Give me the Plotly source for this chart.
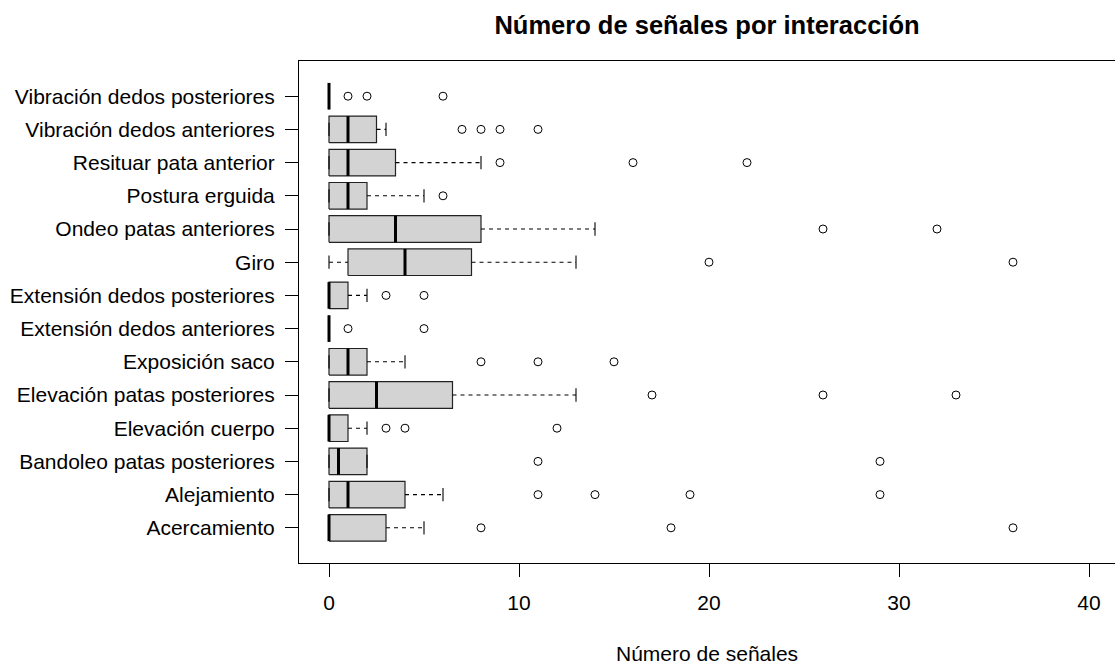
import plotly.graph_objects as go

categories = ["Acercamiento", "Alejamiento", "Bandoleo patas posteriores", "Elevación cuerpo",
              "Elevación patas posteriores", "Exposición saco", "Extensión dedos anteriores",
              "Extensión dedos posteriores", "Giro", "Ondeo patas anteriores", "Postura erguida",
              "Resituar pata anterior", "Vibración dedos anteriores", "Vibración dedos posteriores"]
whisker_low = [0, 0, 0, 0, 0, 0, 0, 0, 0, 0, 0, 0, 0, 0]
q1 = [0, 0, 0, 0, 0, 0, 0, 0, 1, 0, 0, 0, 0, 0]
median = [0, 1, 0.5, 0, 2.5, 1, 0, 0, 4, 3.5, 1, 1, 1, 0]
q3 = [3, 4, 2, 1, 6.5, 2, 0, 1, 7.5, 8, 2, 3.5, 2.5, 0]
whisker_high = [5, 6, 2, 2, 13, 4, 0, 2, 13, 14, 5, 8, 3, 0]
outliers = [[8, 18, 36], [11, 14, 19, 29], [11, 29], [3, 4, 12], [17, 26, 33], [8, 11, 15],
            [1, 5], [3, 5], [20, 36], [26, 32], [6], [9, 16, 22], [7, 8, 9, 11], [1, 2, 6]]
x_ticks = [0, 10, 20, 30, 40]

FONT = "Liberation Sans, Arial, sans-serif"
HW = 0.4   # half box height
SW = 0.2   # half staple length

pos = list(range(1, len(categories) + 1))

bx, by = [], []
for p, a, b in zip(pos, q1, q3):
    bx += [a, b, b, a, a, None]
    by += [p - HW, p - HW, p + HW, p + HW, p - HW, None]

wx, wy = [], []
for p, lo, a, b, hi in zip(pos, whisker_low, q1, q3, whisker_high):
    if hi > b:
        wx += [b, hi, None]; wy += [p, p, None]
    if lo < a:
        wx += [lo, a, None]; wy += [p, p, None]

sx, sy = [], []
for p, lo, hi in zip(pos, whisker_low, whisker_high):
    sx += [hi, hi, None, lo, lo, None]
    sy += [p - SW, p + SW, None, p - SW, p + SW, None]

mx, my = [], []
for p, m in zip(pos, median):
    mx += [m, m, None]; my += [p - HW, p + HW, None]

ox, oy = [], []
for p, outs in zip(pos, outliers):
    for v in outs:
        ox.append(v); oy.append(p)

fig = go.Figure()
fig.add_trace(go.Scatter(x=bx, y=by, mode="lines", fill="toself", fillcolor="#D3D3D3",
                         line=dict(color="#222222", width=1.2), hoverinfo="skip"))
fig.add_trace(go.Scatter(x=wx, y=wy, mode="lines",
                         line=dict(color="black", width=1.1, dash="4px,4px"), hoverinfo="skip"))
fig.add_trace(go.Scatter(x=sx, y=sy, mode="lines",
                         line=dict(color="black", width=1.1), hoverinfo="skip"))
fig.add_trace(go.Scatter(x=mx, y=my, mode="lines",
                         line=dict(color="black", width=3), hoverinfo="skip"))
fig.add_trace(go.Scatter(x=ox, y=oy, mode="markers",
                         marker=dict(symbol="circle-open", size=8, color="black",
                                     line=dict(width=1, color="black"))))

fig.update_layout(
    width=1115, height=664,
    margin=dict(l=299, r=0, t=61, b=101),
    plot_bgcolor="white", paper_bgcolor="white",
    showlegend=False,
    font=dict(family=FONT, size=21, color="black"),
    title=dict(text="<b>Número de señales por interacción</b>",
               font=dict(family=FONT, size=25.5, color="black"),
               x=0.5, xref="paper", xanchor="center",
               y=1 - 25 / 664, yref="container", yanchor="middle"),
)
fig.update_xaxes(range=[-30 / 19, 786 / 19], tickvals=x_ticks, ticktext=[str(t) for t in x_ticks],
                 showgrid=False, zeroline=False, showline=True, linecolor="black", linewidth=1,
                 mirror=True, ticks="outside", ticklen=13, tickcolor="black", tickwidth=1,
                 ticklabelstandoff=8,
                 tickfont=dict(family=FONT, size=21, color="black"))
fig.update_yaxes(range=[-0.06, len(categories) + 1.06], tickvals=pos, ticktext=categories,
                 showgrid=False, zeroline=False, showline=True, linecolor="black", linewidth=1,
                 mirror=False, ticks="outside", ticklen=13, tickcolor="black", tickwidth=1,
                 ticklabelstandoff=6,
                 tickfont=dict(family=FONT, size=21, color="black"))

fig.add_annotation(text="Número de señales", xref="paper", yref="paper", x=0.5,
                   y=(563 - 653) / 502, xanchor="center", yanchor="middle", showarrow=False,
                   font=dict(family=FONT, size=21, color="black"))

fig.write_html("out.html", config={"displayModeBar": False},
               post_script="document.body.style.margin='0';document.body.style.overflow='hidden';")
